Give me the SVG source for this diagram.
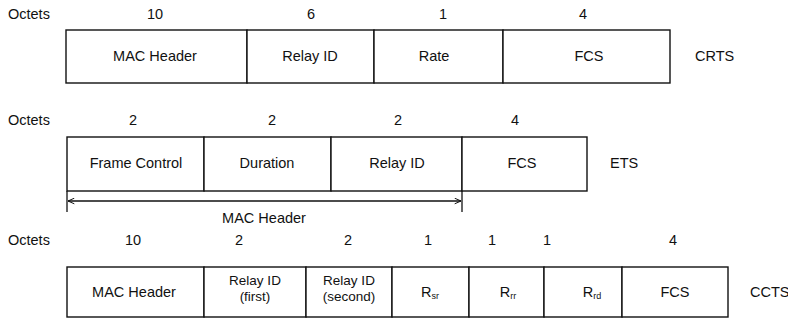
<svg xmlns="http://www.w3.org/2000/svg" width="788" height="322" viewBox="0 0 788 322">
<defs>
<style>
text{font-family:"Liberation Sans",Arial,sans-serif;font-size:14.5px;fill:#111}
.c{text-anchor:middle}
.two{font-size:13.5px}
.box{fill:#fff;stroke:#111;stroke-width:1.4}
.ln{fill:none;stroke:#111;stroke-width:1.3}
.sub{font-size:9px}
</style>
<marker id="ah" viewBox="0 0 10 10" refX="10" refY="5" markerWidth="7" markerHeight="7" orient="auto-start-reverse" markerUnits="userSpaceOnUse">
<path d="M1,1 L10,5 L1,9" fill="none" stroke="#111" stroke-width="1.4"/>
</marker>
</defs>
<rect width="788" height="322" fill="#fff"/>

<!-- Row 1: CRTS -->
<g id="crts">
<text x="8" y="19">Octets</text>
<text class="c" x="155" y="19">10</text>
<text class="c" x="311" y="19">6</text>
<text class="c" x="443" y="19">1</text>
<text class="c" x="583" y="19">4</text>
<g id="crts-mac"><rect class="box" x="66" y="30" width="181" height="53"/><text class="c" x="155" y="61">MAC Header</text></g>
<g id="crts-relay"><rect class="box" x="247" y="30" width="127" height="53"/><text class="c" x="310" y="61">Relay ID</text></g>
<g id="crts-rate"><rect class="box" x="374" y="30" width="129" height="53"/><text class="c" x="434" y="61">Rate</text></g>
<g id="crts-fcs"><rect class="box" x="503" y="30" width="167" height="53"/><text class="c" x="589" y="61">FCS</text></g>
<text x="695" y="61">CRTS</text>
</g>

<!-- Row 2: ETS -->
<g id="ets">
<text x="8" y="125">Octets</text>
<text class="c" x="133" y="125">2</text>
<text class="c" x="272" y="125">2</text>
<text class="c" x="398" y="125">2</text>
<text class="c" x="515" y="125">4</text>
<g id="ets-fc"><rect class="box" x="67" y="137" width="137" height="54"/><text class="c" x="136" y="168">Frame Control</text></g>
<g id="ets-dur"><rect class="box" x="204" y="137" width="127" height="54"/><text class="c" x="267" y="168">Duration</text></g>
<g id="ets-relay"><rect class="box" x="331" y="137" width="131" height="54"/><text class="c" x="397" y="168">Relay ID</text></g>
<g id="ets-fcs"><rect class="box" x="462" y="137" width="125" height="54"/><text class="c" x="522" y="168">FCS</text></g>
<text x="610" y="168">ETS</text>
<text class="c" x="264" y="223">MAC Header</text>
</g>

<!-- Row 3: CCTS -->
<g id="ccts">
<text x="8" y="245">Octets</text>
<text class="c" x="133" y="245">10</text>
<text class="c" x="239" y="245">2</text>
<text class="c" x="348" y="245">2</text>
<text class="c" x="428" y="245">1</text>
<text class="c" x="492" y="245">1</text>
<text class="c" x="547" y="245">1</text>
<text class="c" x="673" y="245">4</text>
<g id="ccts-mac"><rect class="box" x="67" y="267" width="137" height="50"/><text class="c" x="134" y="297">MAC Header</text></g>
<g id="ccts-r1"><rect class="box" x="204" y="267" width="102" height="50"/><text class="c two" x="255" y="285">Relay ID</text><text class="c two" x="255" y="301">(first)</text></g>
<g id="ccts-r2"><rect class="box" x="306" y="267" width="86" height="50"/><text class="c two" x="349" y="285">Relay ID</text><text class="c two" x="349" y="301">(second)</text></g>
<g id="ccts-rsr"><rect class="box" x="392" y="267" width="77" height="50"/><text class="c" x="430" y="297">R<tspan class="sub" dy="2">sr</tspan></text></g>
<g id="ccts-rrr"><rect class="box" x="469" y="267" width="75" height="50"/><text class="c" x="508" y="297">R<tspan class="sub" dy="2">rr</tspan></text></g>
<g id="ccts-rrd"><rect class="box" x="544" y="267" width="78" height="50"/><text class="c" x="592" y="297">R<tspan class="sub" dy="2">rd</tspan></text></g>
<g id="ccts-fcs"><rect class="box" x="622" y="267" width="106" height="50"/><text class="c" x="675" y="297">FCS</text></g>
<text x="750" y="297">CCTS</text>
</g>

<!-- Connectors -->
<g id="connectors">
<line class="ln" x1="67" y1="191" x2="67" y2="212"/>
<line class="ln" x1="462" y1="191" x2="462" y2="212"/>
<line class="ln" x1="68" y1="201" x2="461" y2="201" marker-start="url(#ah)" marker-end="url(#ah)"/>
</g>
</svg>
